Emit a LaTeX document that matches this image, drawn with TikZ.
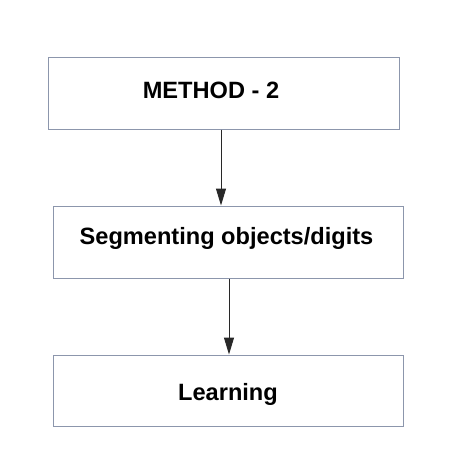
\documentclass[tikz,border=0pt]{standalone}
\usepackage{fontspec}
\setmainfont{Liberation Sans}
\usepackage{tikz}
\usetikzlibrary{arrows.meta}

\definecolor{boxline}{RGB}{140,150,172}
\definecolor{arrline}{RGB}{40,40,40}

\tikzset{
    stagebox/.style={draw=boxline, line width=1pt, rectangle, inner sep=0pt},
    stagetext/.style={anchor=base, inner sep=0pt, font=\bfseries\fontsize{23.6}{28}\selectfont},
    flowarrow/.style={draw=arrline, line width=1pt, -{Triangle[length=17pt,width=10pt]}}
}

\begin{document}
\begin{tikzpicture}[x=1pt, y=1pt]
            \useasboundingbox[fill=white] (0,0) rectangle (448,-472);

            \node[stagebox, minimum width=351pt, minimum height=72pt] (method) at (223.5,-93) {};
            \node[stagebox, minimum width=350pt, minimum height=72pt] (segment) at (228,-242) {};
            \node[stagebox, minimum width=350pt, minimum height=71pt] (learning) at (228,-390.5) {};

            \node[stagetext] (method-t) at (211,-98.3) {METHOD - 2};
            \node[stagetext] (segment-t) at (226.5,-244) {Segmenting objects/digits};
            \node[stagetext] (learning-t) at (228,-400) {Learning};

            \draw[flowarrow] ([xshift=-2.5pt]method.south) -- ([xshift=-7pt]segment.north);
            \draw[flowarrow] ([xshift=1pt]segment.south) -- ([xshift=1pt]learning.north);
        \end{tikzpicture}
\end{document}
